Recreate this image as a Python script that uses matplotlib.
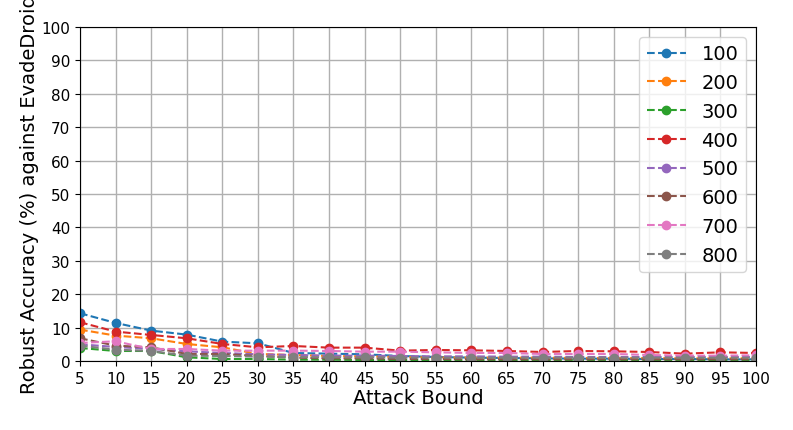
import matplotlib
matplotlib.use("Agg")
import matplotlib.pyplot as plt

bounds = [5, 10, 15, 20, 25, 30, 35, 40, 45, 50, 55, 60, 65, 70, 75, 80, 85, 90, 95, 100]
series_labels = ["100", "200", "300", "400", "500", "600", "700", "800"]

acc_100 = [14.3, 11.4, 9.1, 7.9, 5.8, 5.3, 2.4, 2.2, 2.0, 1.5, 1.2, 1.0, 0.9, 0.8, 0.7, 0.7, 0.6, 0.6, 0.5, 0.5]
acc_200 = [9.4, 7.6, 6.8, 5.1, 4.1, 2.1, 1.8, 1.5, 1.4, 1.2, 1.1, 1.0, 1.0, 1.0, 0.9, 0.9, 0.9, 0.8, 0.8, 0.8]
acc_300 = [3.9, 3.0, 3.0, 1.1, 0.6, 0.6, 0.4, 0.4, 0.3, 0.3, 0.3, 0.3, 0.3, 0.3, 0.3, 0.3, 0.3, 0.3, 0.3, 0.3]
acc_400 = [11.6, 8.8, 7.8, 6.8, 5.1, 4.1, 4.5, 4.0, 4.0, 3.1, 3.3, 3.2, 3.0, 2.7, 3.0, 2.9, 2.7, 2.2, 2.6, 2.4]
acc_500 = [5.0, 4.2, 3.6, 2.9, 2.4, 2.0, 1.8, 1.6, 1.6, 1.5, 1.4, 1.4, 1.3, 1.3, 1.2, 1.2, 1.2, 1.2, 1.2, 1.2]
acc_600 = [6.8, 4.6, 4.1, 2.1, 2.1, 1.5, 1.0, 0.8, 0.8, 0.6, 0.6, 0.5, 0.5, 0.5, 0.5, 0.5, 0.5, 0.5, 0.5, 0.5]
acc_700 = [5.4, 5.9, 3.6, 3.6, 3.1, 3.1, 3.1, 3.0, 2.8, 2.8, 2.6, 2.4, 2.4, 2.1, 2.1, 2.1, 1.8, 1.6, 1.6, 1.7]
acc_800 = [4.6, 3.4, 3.0, 1.6, 1.5, 1.3, 1.2, 1.1, 1.1, 1.0, 1.0, 1.0, 1.0, 1.0, 1.0, 1.0, 1.0, 1.0, 1.0, 1.0]

all_series = [acc_100, acc_200, acc_300, acc_400, acc_500, acc_600, acc_700, acc_800]

fig = plt.figure(figsize=(7.93, 4.31), dpi=100)
ax = fig.add_axes([80 / 793, 1 - 362 / 431, (756 - 80) / 793, (362 - 28) / 431])

for vals, lab in zip(all_series, series_labels):
    ax.plot(bounds, vals, linestyle="--", marker="o", markersize=6, linewidth=1.5, label=lab)

ax.set_xlim(5, 100)
ax.set_ylim(0, 100)
ax.set_xticks(bounds)
ax.set_yticks(range(0, 101, 10))
ax.tick_params(labelsize=11)
ax.grid(True, color="#b0b0b0", linewidth=1.0)
ax.set_xlabel("Attack Bound", fontsize=14, labelpad=2)
ax.set_ylabel("Robust Accuracy (%) against EvadeDroid", fontsize=14, labelpad=1.5)
ax.legend(loc="upper right", fontsize=14, handlelength=2.0, labelspacing=0.5,
          borderaxespad=0.5)

fig.savefig("out.png", dpi=100)
